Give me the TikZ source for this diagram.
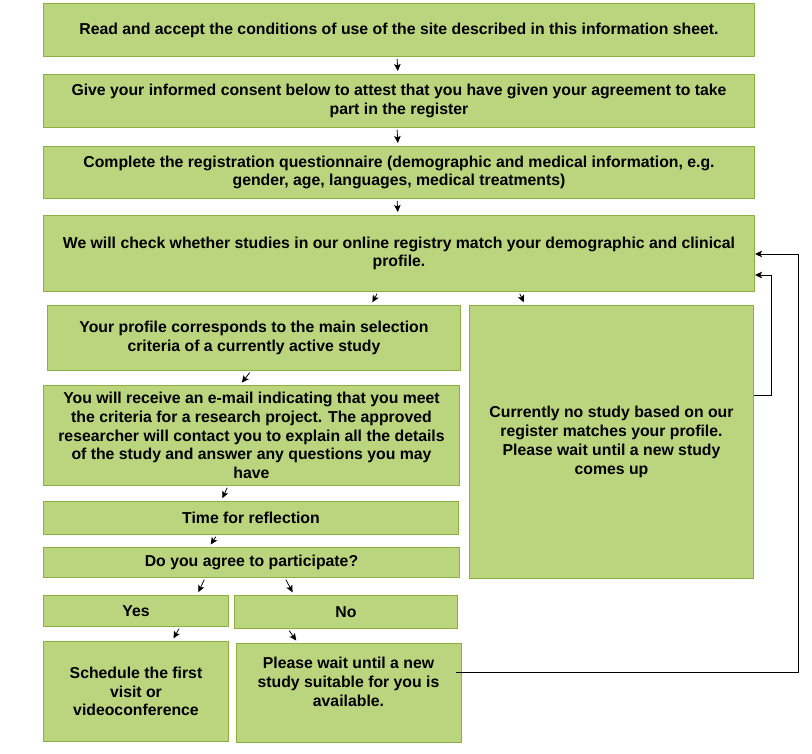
\documentclass[tikz,border=0pt]{standalone}
\usepackage{fontspec}
\setmainfont{Liberation Sans}
\usetikzlibrary{arrows.meta,positioning}
\definecolor{boxfill}{RGB}{187,212,126}
\definecolor{boxline}{RGB}{140,176,62}

\begin{document}
\begin{tikzpicture}[x=1pt,y=-1pt,
    stepbox/.style={draw=boxline,line width=1pt,fill=boxfill,anchor=north west,inner sep=0pt,align=center,font=\fontsize{15.8}{18.8}\selectfont\bfseries},
    flow/.style={-{Stealth[length=7pt,width=6.5pt,inset=1.5pt]},black,line width=0.8pt,shorten <=2pt,shorten >=3pt},
    back/.style={-{Stealth[length=7pt,width=6.5pt,inset=1.5pt]},black,line width=0.9pt}
  ]
    \useasboundingbox (0,0) rectangle (812,754);

    % Main column
    \node[stepbox,minimum width=711pt,minimum height=53pt] (read) at (43,3) {Read and accept the conditions of use of the site described in this information sheet.};
    \node[stepbox,minimum width=711pt,minimum height=53pt] (consent) at (43,74) {Give your informed consent below to attest that you have given your agreement to take\\part in the register};
    \node[stepbox,minimum width=711pt,minimum height=52pt] (quest) at (43,146) {Complete the registration questionnaire (demographic and medical information, e.g.\\gender, age, languages, medical treatments)};
    \node[stepbox,minimum width=711pt,minimum height=76pt] (check) at (43,215) {We will check whether studies in our online registry match your demographic and clinical\\profile.};

    % Match branch
    \node[stepbox,minimum width=413pt,minimum height=65pt] (match) at (47,305) {Your profile corresponds to the main selection\\criteria of a currently active study};
    \node[stepbox,minimum width=416pt,minimum height=100pt] (mail) at (43,385) {You will receive an e-mail indicating that you meet\\the criteria for a research project. The approved\\researcher will contact you to explain all the details\\of the study and answer any questions you may\\have};
    \node[stepbox,minimum width=415pt,minimum height=33pt] (reflect) at (43,501) {Time for reflection};
    \node[stepbox,minimum width=416pt,minimum height=30pt] (agree) at (43,547) {Do you agree to participate?};
    \node[stepbox,minimum width=185pt,minimum height=31pt] (yes) at (43,595) {Yes};
    \node[stepbox,minimum width=223pt,minimum height=33pt] (no) at (234,595) {No};
    \node[stepbox,minimum width=185pt,minimum height=100pt] (visit) at (43,641) {Schedule the first\\visit or\\videoconference};
    \node[stepbox,minimum width=225pt,minimum height=99pt] (wait) at (236,643) {};
    \node[align=center,inner sep=0pt,font=\fontsize{15.8}{18.8}\selectfont\bfseries] (waittext) at (348.5,682) {Please wait until a new\\study suitable for you is\\available.};

    % No match branch
    \node[stepbox,minimum width=284pt,minimum height=273pt] (nomatch) at (469,305) {Currently no study based on our\\register matches your profile.\\Please wait until a new study\\comes up};

    % Arrows
    \draw[flow] ([xshift=354pt]read.south west) -- ([xshift=355pt]consent.north west);
    \draw[flow] ([xshift=354pt]consent.south west) -- ([xshift=355pt]quest.north west);
    \draw[flow] ([xshift=354pt]quest.south west) -- ([xshift=355pt]check.north west);
    \draw[flow] ([xshift=335pt]check.south west) -- ([xshift=324pt]match.north west);
    \draw[flow] ([xshift=476pt]check.south west) -- ([xshift=56pt]nomatch.north west);
    \draw[flow] ([xshift=204pt]match.south west) -- ([xshift=197pt]mail.north west);
    \draw[flow] ([xshift=185pt]mail.south west) -- ([xshift=178pt]reflect.north west);
    \draw[flow] ([xshift=174pt]reflect.south west) -- ([xshift=166pt]agree.north west);
    \draw[flow] ([xshift=162pt]agree.south west) -- ([xshift=154pt]yes.north west);
    \draw[flow] ([xshift=242pt]agree.south west) -- ([xshift=60pt]no.north west);
    \draw[flow] ([xshift=137pt]yes.south west) -- ([xshift=129pt]visit.north west);
    \draw[flow] ([xshift=54pt]no.south west) -- ([xshift=62pt]wait.north west);

    % Loops back to the check
    \draw[back] ([yshift=-90pt]nomatch.north east) -- ++(17,0) |- ([yshift=-60pt]check.north east);
    \draw[back] ([xshift=-6pt,yshift=-29pt]wait.north east) -- (798,672) |- ([yshift=-39pt]check.north east);
  \end{tikzpicture}
\end{document}
